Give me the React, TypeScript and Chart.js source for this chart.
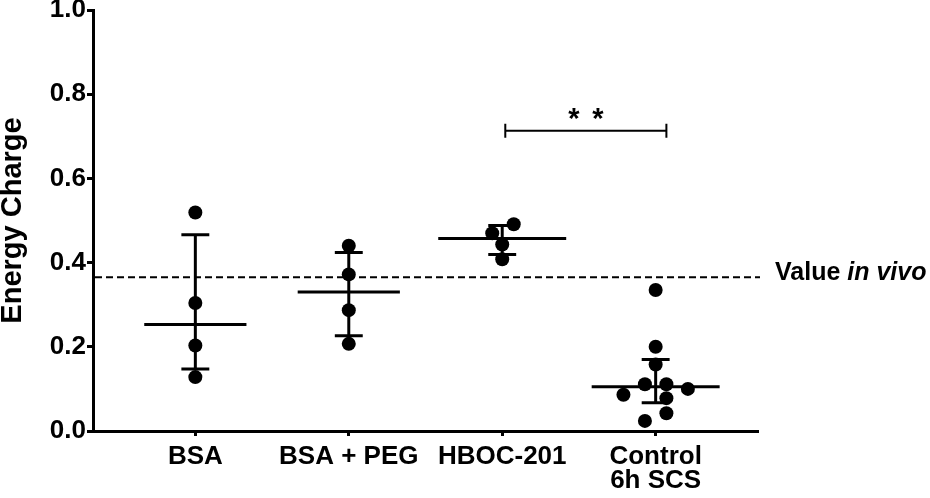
import React, { useEffect, useRef } from 'react';
import { Chart, registerables } from 'chart.js';

Chart.register(...registerables);

// ---- data ----
const categories: string[][] = [['BSA'], ['BSA + PEG'], ['HBOC-201'], ['Control', '6h SCS']];
const bsaValues = [0.519, 0.304, 0.203, 0.128];
const bsaJitter = [0, 0, 0, 0];
const bsaPegValues = [0.44, 0.372, 0.287, 0.207];
const bsaPegJitter = [0, 0, 0, 0];
const hbocValues = [0.491, 0.47, 0.443, 0.408];
const hbocJitter = [0.075, -0.065, 0, 0];
const controlValues = [0.335, 0.2, 0.158, 0.111, 0.111, 0.1, 0.086, 0.078, 0.042, 0.024];
const controlJitter = [0, 0, 0, -0.07, 0.07, 0.21, -0.21, 0.07, 0.07, -0.07];
const meanValues = [0.253, 0.33, 0.457, 0.105];
const errLowValues = [0.147, 0.226, 0.419, 0.067];
const errHighValues = [0.466, 0.424, 0.488, 0.17];
const inVivoValue = 0.365;
const yTickValues = [0, 0.2, 0.4, 0.6, 0.8, 1.0];
const sigFrom = 2.02;
const sigTo = 3.07;
const sigLevel = 0.713;

// ---- styles ----
const FONT = "'Liberation Sans', Arial, Helvetica, sans-serif";
const meanHalfWidth = [0.333, 0.333, 0.417, 0.417];
const capHalfWidth = 0.091;

export default function App() {
  const ref = useRef<HTMLCanvasElement>(null);

  useEffect(() => {
    const canvas = ref.current;
    if (!canvas) return;
    const groups = [bsaValues, bsaPegValues, hbocValues, controlValues];
    const jitters = [bsaJitter, bsaPegJitter, hbocJitter, controlJitter];

    const datasets = groups.map((vals, gi) => ({
      label: categories[gi].join(' '),
      data: vals.map((v, k) => ({ x: gi + jitters[gi][k], y: v })),
      backgroundColor: '#000',
      borderColor: '#000',
      borderWidth: 0,
      pointRadius: 7,
      pointHoverRadius: 7,
    }));

    const overlay = {
      id: 'overlay',
      beforeDatasetsDraw(chart: any) {
        const { ctx, chartArea } = chart;
        const x = chart.scales.x;
        const y = chart.scales.y;
        ctx.save();
        ctx.strokeStyle = '#000';
        // reference dashed line
        ctx.lineWidth = 2;
        ctx.setLineDash([7, 4]);
        const yv = y.getPixelForValue(inVivoValue);
        ctx.beginPath();
        ctx.moveTo(chartArea.left + 2, yv);
        ctx.lineTo(chartArea.right + 2, yv);
        ctx.stroke();
        ctx.setLineDash([]);
        // means and error bars
        ctx.lineWidth = 3;
        meanValues.forEach((m, i) => {
          const ym = y.getPixelForValue(m);
          ctx.beginPath();
          ctx.moveTo(x.getPixelForValue(i - meanHalfWidth[i]), ym);
          ctx.lineTo(x.getPixelForValue(i + meanHalfWidth[i]), ym);
          ctx.stroke();
          const xc = x.getPixelForValue(i);
          const yl = y.getPixelForValue(errLowValues[i]);
          const yh = y.getPixelForValue(errHighValues[i]);
          ctx.beginPath();
          ctx.moveTo(xc, yl);
          ctx.lineTo(xc, yh);
          ctx.stroke();
          const xl = x.getPixelForValue(i - capHalfWidth);
          const xr = x.getPixelForValue(i + capHalfWidth);
          ctx.beginPath();
          ctx.moveTo(xl, yl);
          ctx.lineTo(xr, yl);
          ctx.moveTo(xl, yh);
          ctx.lineTo(xr, yh);
          ctx.stroke();
        });
        ctx.restore();
      },
      afterDraw(chart: any) {
        const { ctx, chartArea } = chart;
        const x = chart.scales.x;
        const y = chart.scales.y;
        ctx.save();
        ctx.fillStyle = '#000';
        ctx.strokeStyle = '#000';
        // in vivo label
        const yv = y.getPixelForValue(inVivoValue);
        ctx.textAlign = 'left';
        ctx.textBaseline = 'middle';
        ctx.font = `bold 25px ${FONT}`;
        const x0 = chartArea.right + 17;
        ctx.fillText('Value ', x0, yv - 4);
        const w = ctx.measureText('Value ').width;
        ctx.font = `italic bold 25px ${FONT}`;
        ctx.fillText('in vivo', x0 + w, yv - 4);
        // significance bracket
        const xa = x.getPixelForValue(sigFrom);
        const xb = x.getPixelForValue(sigTo);
        const ys = y.getPixelForValue(sigLevel);
        ctx.lineWidth = 2;
        ctx.beginPath();
        ctx.moveTo(xa, ys);
        ctx.lineTo(xb, ys);
        ctx.moveTo(xa, ys - 7);
        ctx.lineTo(xa, ys + 7);
        ctx.moveTo(xb, ys - 7);
        ctx.lineTo(xb, ys + 7);
        ctx.stroke();
        ctx.font = `bold 29px ${FONT}`;
        ctx.textAlign = 'center';
        ctx.textBaseline = 'alphabetic';
        const xm = (xa + xb) / 2;
        ctx.fillText('*', xm - 12, ys - 3);
        ctx.fillText('*', xm + 12, ys - 3);
        ctx.restore();
      },
    };

    const chart = new Chart(canvas, {
      type: 'scatter',
      data: { datasets },
      options: {
        animation: false,
        responsive: false,
        devicePixelRatio: 1,
        events: [],
        layout: { padding: { top: 10, right: 172, bottom: 0, left: 0 } },
        plugins: { legend: { display: false }, tooltip: { enabled: false } },
        scales: {
          x: {
            type: 'linear',
            min: -0.667,
            max: 3.667,
            afterBuildTicks: (scale: any) => {
              scale.ticks = categories.map((_, i) => ({ value: i }));
            },
            afterFit: (scale: any) => {
              scale.height = 67;
              scale.paddingLeft = 0;
              scale.paddingRight = 0;
            },
            ticks: {
              autoSkip: false,
              maxRotation: 0,
              minRotation: 0,
              padding: 9,
              color: '#000',
              font: { family: FONT, size: 26, weight: 'bold', lineHeight: 0.93 },
              callback: (v: any) => categories[Math.round(Number(v))] ?? '',
            },
            grid: {
              display: true,
              drawOnChartArea: false,
              drawTicks: true,
              tickLength: 5,
              tickWidth: 3,
              tickColor: '#000',
              color: '#000',
            },
            border: { display: true, color: '#000', width: 3 },
          },
          y: {
            type: 'linear',
            min: 0,
            max: 1,
            afterBuildTicks: (scale: any) => {
              scale.ticks = yTickValues.map((v) => ({ value: v }));
            },
            afterFit: (scale: any) => {
              scale.width = 93;
              scale.paddingTop = 0;
              scale.paddingBottom = 0;
            },
            ticks: {
              padding: 1,
              color: '#000',
              font: { family: FONT, size: 26, weight: 'bold' },
              callback: (v: any) => Number(v).toFixed(1),
            },
            grid: {
              display: true,
              drawOnChartArea: false,
              drawTicks: true,
              tickLength: 6,
              tickWidth: 3,
              tickColor: '#000',
              color: '#000',
            },
            border: { display: true, color: '#000', width: 3 },
            title: {
              display: true,
              text: 'Energy Charge',
              color: '#000',
              font: { family: FONT, size: 29, weight: 'bold', lineHeight: 0.92 },
              padding: { top: 0, bottom: 0 },
            },
          },
        },
      },
      plugins: [overlay],
    } as any);

    return () => chart.destroy();
  }, []);

  return (
    <div style={{ position: 'fixed', left: 0, top: 0, width: 930, height: 498, background: '#fff' }}>
      <canvas ref={ref} width={930} height={498} style={{ display: 'block' }} />
    </div>
  );
}
